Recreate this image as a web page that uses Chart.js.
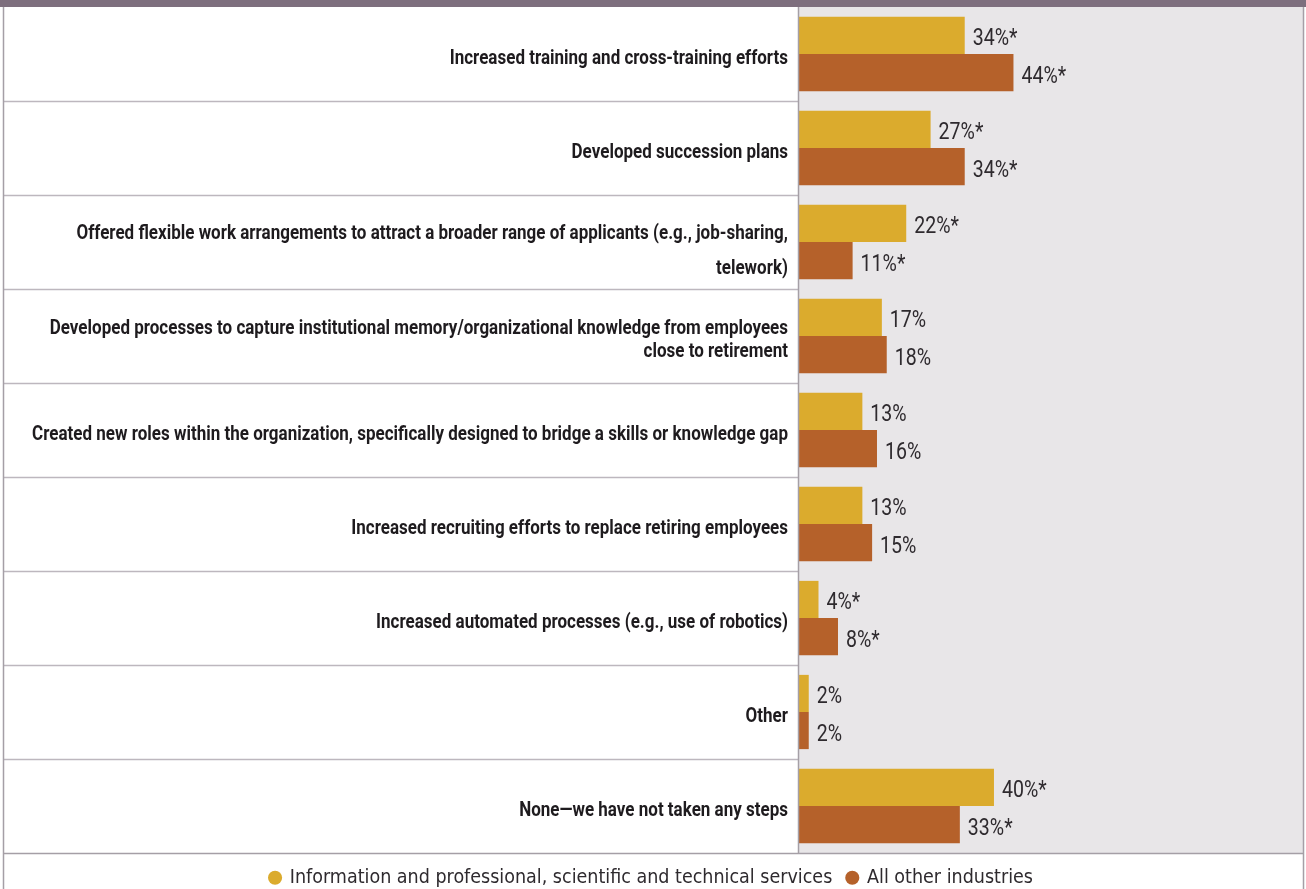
<!DOCTYPE html>
<html>
<head>
<meta charset="utf-8">
<script src="https://cdn.jsdelivr.net/npm/chart.js@4.4.1/dist/chart.umd.min.js"></script>
<style>
  html, body { margin: 0; padding: 0; background: #fff; }
  #wrap { width: 1306px; height: 889px; position: relative; }
</style>
</head>
<body>
<div id="wrap"><canvas id="myChart" width="1306" height="889"></canvas></div>
<script>
// chart data
const categories = [
    'Increased training and cross-training efforts',
    'Developed succession plans',
    ['Offered flexible work arrangements to attract a broader range of applicants (e.g., job-sharing,', 'telework)'],
    ['Developed processes to capture institutional memory/organizational knowledge from employees', 'close to retirement'],
    'Created new roles within the organization, specifically designed to bridge a skills or knowledge gap',
    'Increased recruiting efforts to replace retiring employees',
    'Increased automated processes (e.g., use of robotics)',
    'Other',
    'None\u2014we have not taken any steps'
]
const seriesNames = ['Information and professional, scientific and technical services', 'All other industries']
const infoValues = [34, 27, 22, 17, 13, 13, 4, 2, 40]
const otherValues = [44, 34, 11, 18, 16, 15, 8, 2, 33]
// asterisk marks significant differences
const infoStar = [true, true, true, false, false, false, true, false, true]
const otherStar = [true, true, true, false, false, false, true, false, true]

const YELLOW = '#dbab2d'
const ORANGE = '#b5612a'
const PANEL = '#e8e6e8'
const FRAME = '#a59fa6'
const LABEL_FONT = "Roboto, 'DejaVu Sans Condensed', sans-serif"
const LEGEND_FONT = "'DejaVu Sans Condensed', Roboto, sans-serif"
const VALUE_FONT = "Roboto, 'Open Sans', sans-serif"

// draws text squeezed horizontally (narrow type look)
function squeezedText(ctx, txt, x, y, k, align) {
    ctx.save()
    ctx.translate(x, y)
    ctx.scale(k, 1)
    ctx.textAlign = align
    ctx.fillText(txt, 0, 0)
    ctx.restore()
}

// frame, panel background, row separators and category labels
const framePlugin = {
    id: 'tableFrame',
    beforeDraw: (chart) => {
        const { ctx, chartArea } = chart
        const W = chart.width
        ctx.save()
        ctx.fillStyle = '#ffffff'
        ctx.fillRect(0, 0, W, chart.height)
        ctx.fillStyle = PANEL
        ctx.fillRect(chartArea.left, chartArea.top, chartArea.right - chartArea.left, chartArea.bottom - chartArea.top)
        // top strip
        ctx.fillStyle = '#7e6f7e'
        ctx.fillRect(0, 0, W, chartArea.top)
        ctx.restore()
    },
    afterDraw: (chart) => {
        const { ctx, chartArea } = chart
        const yScale = chart.scales.y
        const n = categories.length
        const rowH = (chartArea.bottom - chartArea.top) / n
        ctx.save()
        ctx.strokeStyle = '#bdb7be'
        ctx.lineWidth = 1.5
        for (let i = 1; i < n; i++) {
            const y = Math.round(chartArea.top + i * rowH) + 0.5
            ctx.beginPath()
            ctx.moveTo(3, y)
            ctx.lineTo(chartArea.left, y)
            ctx.stroke()
        }
        ctx.strokeStyle = FRAME
        ctx.lineWidth = 1.5
        ctx.beginPath()
        ctx.moveTo(3.5, chartArea.top)
        ctx.lineTo(3.5, chart.height)
        ctx.moveTo(chartArea.right + 0.5, chartArea.top)
        ctx.lineTo(chartArea.right + 0.5, chart.height)
        ctx.moveTo(chartArea.left - 0.5, chartArea.top)
        ctx.lineTo(chartArea.left - 0.5, chartArea.bottom)
        ctx.moveTo(3, chartArea.bottom + 0.5)
        ctx.lineTo(chartArea.right, chartArea.bottom + 0.5)
        ctx.stroke()

        // category labels, right aligned against the panel
        ctx.fillStyle = '#1e1b1e'
        ctx.font = 'bold 21px ' + LABEL_FONT
        ctx.textBaseline = 'alphabetic'
        const k = 756 / ctx.measureText(categories[4]).width
        const xr = chartArea.left - 11
        categories.forEach((lab, i) => {
            const yc = yScale.getPixelForValue(i)
            const lines = Array.isArray(lab) ? lab : [lab]
            const gap = i === 2 ? 35 : 23
            const shift = i === 2 ? 5 : 0
            lines.forEach((line, j) => {
                const y = yc + 9.5 + shift + (j - (lines.length - 1) / 2) * gap
                squeezedText(ctx, line, xr, y, k, 'right')
            })
        })
        ctx.restore()
    }
}

// percentage labels at the bar ends
const valueLabels = {
    id: 'valueLabels',
    afterDatasetsDraw: (chart) => {
        const { ctx } = chart
        const stars = [infoStar, otherStar]
        ctx.save()
        ctx.fillStyle = '#2e2a2e'
        ctx.textBaseline = 'alphabetic'
        ctx.font = '23px ' + VALUE_FONT
        chart.data.datasets.forEach((ds, d) => {
            chart.getDatasetMeta(d).data.forEach((bar, i) => {
                const txt = ds.data[i] + '%' + (stars[d][i] ? '*' : '')
                squeezedText(ctx, txt, bar.x + 8, bar.y + 10, 0.85, 'left')
            })
        })
        ctx.restore()
    }
}

const ctx = document.getElementById('myChart')
new Chart(ctx, {
    type: 'bar',
    data: {
        labels: categories,
        datasets: [{
            label: seriesNames[0],
            data: infoValues,
            backgroundColor: YELLOW,
            categoryPercentage: 0.79,
            barPercentage: 1
        },
        {
            label: seriesNames[1],
            data: otherValues,
            backgroundColor: ORANGE,
            categoryPercentage: 0.79,
            barPercentage: 1
        }]
    },
    options: {
        indexAxis: 'y',
        responsive: false,
        animation: false,
        layout: { padding: { top: 7, left: 0, right: 3, bottom: -8.5 } },
        scales: {
            x: {
                display: false,
                min: 0,
                max: 103.4
            },
            y: {
                afterFit: (scale) => {
                    scale.width = 799
                    scale.paddingTop = 0
                    scale.paddingBottom = 0
                },
                grid: { display: false, drawTicks: false },
                border: { display: false },
                ticks: { display: false }
            }
        },
        plugins: {
            legend: {
                position: 'bottom',
                labels: {
                    usePointStyle: true,
                    pointStyle: 'circle',
                    boxWidth: 10,
                    boxHeight: 10,
                    padding: 15,
                    color: '#2e2a2e',
                    font: { family: LEGEND_FONT, size: 19.5 }
                }
            },
            tooltip: { enabled: false }
        }
    },
    plugins: [framePlugin, valueLabels]
})
</script>
</body>
</html>
